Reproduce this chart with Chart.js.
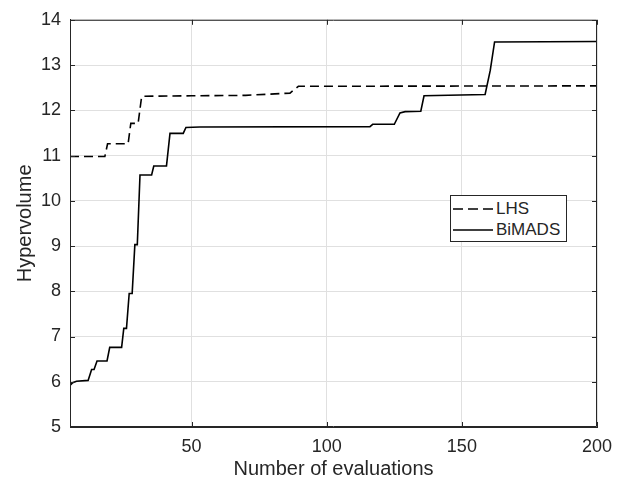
<!DOCTYPE html>
<html lang="en">
  <head>
    <meta charset="UTF-8" />
    <title>Hypervolume</title>
    <script src="https://cdn.jsdelivr.net/npm/chart.js"></script>
    <style>
      body { margin: 0; background: #fff; }
      #wrap { position: relative; width: 629px; height: 482px; }
      #legend {
        position: absolute; left: 450px; top: 195px; width: 117px; height: 47px;
        border: 1px solid #262626; background: #fff; box-sizing: border-box;
        font: 17px "Liberation Sans", Arial, sans-serif; color: #262626;
      }
      #legend .row { position: absolute; left: 2px; height: 20px; display: flex; align-items: center; }
      #legend svg { margin-right: 3px; }
    </style>
  </head>
  <body>
    <div id="wrap">
      <canvas id="hvChart" width="629" height="482"></canvas>
      <div id="legend">
        <div class="row" style="top: 3px">
          <svg width="40" height="4"><line x1="0" y1="2" x2="40" y2="2" stroke="#000" stroke-width="1.6" stroke-dasharray="10,5" /></svg>LHS
        </div>
        <div class="row" style="top: 24px">
          <svg width="40" height="4"><line x1="0" y1="2" x2="40" y2="2" stroke="#000" stroke-width="1.6" /></svg>BiMADS
        </div>
      </div>
    </div>

    <script>
      // values
      const lhsX = [5, 17.9, 18.9, 26.5, 27.5, 30.2, 31.5, 32, 50, 70, 86.4, 89.5, 200];
      const lhsY = [10.98, 10.98, 11.26, 11.26, 11.71, 11.71, 12.3, 12.31, 12.32, 12.33, 12.38, 12.53, 12.54];

      const bimadsX = [5, 6, 7.4, 11.7, 13, 13.9, 15, 18.7, 19.7, 24.1, 24.9, 25.9, 26.9, 28, 29, 29.9,
        30.9, 35.2, 36, 40.7, 42, 46.9, 47.9, 53, 116, 117, 125, 127.1, 129, 134.8, 136, 158.6, 160.5, 162.1, 200];
      const bimadsY = [5.92, 5.98, 6.01, 6.03, 6.27, 6.27, 6.46, 6.46, 6.76, 6.76, 7.18, 7.18, 7.95, 7.95, 9.03, 9.03,
        10.57, 10.57, 10.77, 10.77, 11.49, 11.49, 11.62, 11.63, 11.64, 11.69, 11.69, 11.94, 11.97, 11.98, 12.32, 12.35, 12.88, 13.51, 13.52];

      const xTicks = [50, 100, 150, 200];
      const yMin = 5, yMax = 14;

      const toPoints = (xs, ys) => xs.map((x, i) => ({ x: x, y: ys[i] }));
      const axisColor = "#262626";
      const font = "'Liberation Sans', Arial, sans-serif";

      // MATLAB-style box with inward ticks
      const boxTicks = {
        id: "boxTicks",
        afterDraw(chart) {
          const { ctx, chartArea: a, scales } = chart;
          ctx.save();
          ctx.strokeStyle = axisColor;
          ctx.lineWidth = 1;
          ctx.beginPath();
          ctx.rect(a.left + 0.5, a.top + 0.5, a.right - a.left - 1, a.bottom - a.top - 1);
          const len = 5;
          scales.y.ticks.forEach((t) => {
            const py = Math.round(scales.y.getPixelForValue(t.value)) + 0.5;
            ctx.moveTo(a.left, py); ctx.lineTo(a.left + len, py);
            ctx.moveTo(a.right, py); ctx.lineTo(a.right - len, py);
          });
          scales.x.ticks.forEach((t) => {
            const px = Math.round(scales.x.getPixelForValue(t.value)) + 0.5;
            ctx.moveTo(px, a.bottom); ctx.lineTo(px, a.bottom - len);
            ctx.moveTo(px, a.top); ctx.lineTo(px, a.top + len);
          });
          ctx.stroke();
          ctx.restore();
        },
      };

      new Chart(document.getElementById("hvChart"), {
        type: "line",
        data: {
          datasets: [
            {
              label: "LHS",
              data: toPoints(lhsX, lhsY),
              borderColor: "#000",
              borderWidth: 1.6,
              borderDash: [9, 5],
              pointRadius: 0,
              tension: 0,
            },
            {
              label: "BiMADS",
              data: toPoints(bimadsX, bimadsY),
              borderColor: "#000",
              borderWidth: 1.6,
              pointRadius: 0,
              tension: 0,
            },
          ],
        },
        options: {
          responsive: false,
          animation: false,
          layout: { padding: { top: 12, right: 32, left: 0, bottom: 0 } },
          plugins: { legend: { display: false }, tooltip: { enabled: false } },
          scales: {
            x: {
              type: "linear",
              min: 5,
              max: 200,
              afterBuildTicks: (scale) => { scale.ticks = xTicks.map((v) => ({ value: v })); },
              afterFit: (scale) => { scale.height = 55; },
              grid: { color: "#e0e0e0", drawTicks: false },
              border: { color: axisColor },
              ticks: { color: axisColor, padding: 9, font: { family: font, size: 18 }, maxRotation: 0 },
              title: {
                display: true,
                text: "Number of evaluations",
                color: axisColor,
                font: { family: font, size: 20 },
                padding: { top: 0, bottom: 1 },
              },
            },
            y: {
              min: yMin,
              max: yMax,
              afterFit: (scale) => { scale.width = 70; },
              grid: { color: "#e0e0e0", drawTicks: false },
              border: { color: axisColor },
              ticks: { stepSize: 1, color: axisColor, padding: 9, font: { family: font, size: 18 } },
              title: {
                display: true,
                text: "Hypervolume",
                color: axisColor,
                font: { family: font, size: 20 },
                padding: { top: 13, bottom: 0 },
              },
            },
          },
        },
        plugins: [boxTicks],
      });
    </script>
  </body>
</html>
